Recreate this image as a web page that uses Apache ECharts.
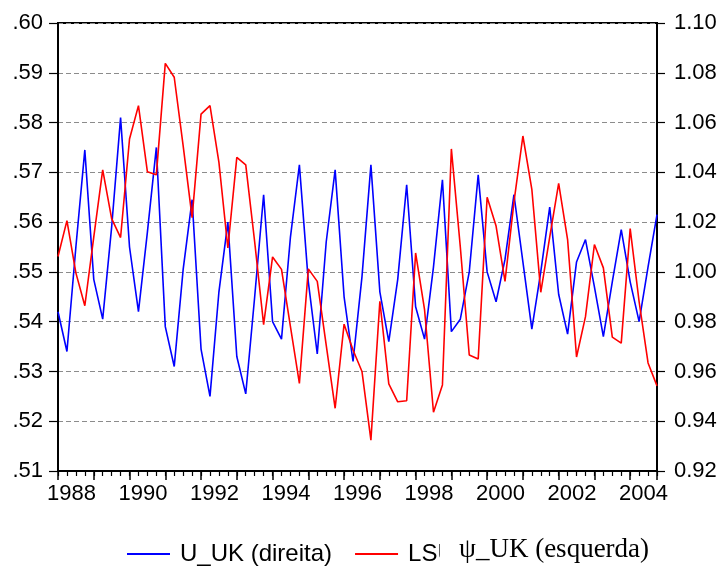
<!DOCTYPE html>
<html>
<head>
<meta charset="utf-8">
<script src="https://cdn.jsdelivr.net/npm/echarts@6/dist/echarts.min.js"></script>
<style>
  html, body { margin: 0; padding: 0; background: #fff; }
  #main { width: 723px; height: 568px; }
</style>
</head>
<body>
<div id="main"></div>
<script>
// quarterly series, 1988Q1 .. 2004Q4
var startYear = 1988;
// U_UK, right axis
var uUK = [
  0.984, 0.968, 1.010, 1.049, 0.997, 0.981, 1.018, 1.062,
  1.010, 0.984, 1.016, 1.050, 0.978, 0.962, 1.001, 1.029,
  0.969, 0.950, 0.992, 1.020, 0.966, 0.951, 0.990, 1.031,
  0.980, 0.973, 1.014, 1.043, 0.996, 0.967, 1.012, 1.041,
  0.990, 0.964, 0.998, 1.043, 0.992, 0.972, 0.997, 1.035,
  0.986, 0.973, 1.002, 1.037, 0.976, 0.981, 1.000, 1.039,
  1.000, 0.988, 1.005, 1.031, 1.004, 0.977, 1.000, 1.026,
  0.991, 0.975, 1.004, 1.013, 0.994, 0.974, 0.996, 1.017,
  0.996, 0.980, 1.002, 1.023
];
// LSU_UK, left axis
var lsuUK = [
  0.5531, 0.5603, 0.5498, 0.5432, 0.5570, 0.5705, 0.5607, 0.5569,
  0.5767, 0.5834, 0.5701, 0.5695, 0.5919, 0.5891, 0.5753, 0.5609,
  0.5817, 0.5834, 0.5720, 0.5548, 0.5730, 0.5715, 0.5560, 0.5394,
  0.5530, 0.5505, 0.5390, 0.5276, 0.5506, 0.5481, 0.5353, 0.5226,
  0.5395, 0.5343, 0.5300, 0.5162, 0.5441, 0.5275, 0.5239, 0.5241,
  0.5538, 0.5424, 0.5218, 0.5273, 0.5747, 0.5550, 0.5333, 0.5325,
  0.5650, 0.5592, 0.5481, 0.5640, 0.5773, 0.5666, 0.5459, 0.5570,
  0.5678, 0.5565, 0.5329, 0.5410, 0.5555, 0.5508, 0.5369, 0.5357,
  0.5587, 0.5440, 0.5317, 0.5271
];
var leftTicks = { min: 0.51, max: 0.60, step: 0.01 };
var rightTicks = { min: 0.92, max: 1.10, step: 0.02 };

function toPoints(arr) {
  return arr.map(function (v, i) { return [startYear + i / 4, v]; });
}

var xMin = startYear;
var xMax = startYear + (uUK.length - 1) / 4;
var font = "Liberation Sans, Arial, sans-serif";

var myChart = echarts.init(document.getElementById("main"));
myChart.setOption({
  animation: false,
  grid: {
    left: 58, right: 66, top: 23, bottom: 97,
    show: true, borderColor: "#000", borderWidth: 2
  },
  legend: {
    left: 122, top: 537,
    itemWidth: 43, itemHeight: 2, itemGap: 23,
    icon: "rect",
    textStyle: { fontFamily: font, fontSize: 24, color: "#000", padding: [0, 0, 0, 5] },
    data: ["U_UK (direita)", "LSU_UK (esquerda)"]
  },
  graphic: [
    // the label overlay that cuts the second legend entry
    { type: "rect", left: 440, top: 532, shape: { width: 230, height: 36 }, style: { fill: "#fff" }, z: 100 },
    {
      type: "text", left: 459, top: 536, z: 101,
      style: { text: "\u03C8_UK (esquerda)", font: "27px 'Liberation Serif', 'Times New Roman', serif", fill: "#000" }
    }
  ],
  xAxis: [
    {
      type: "value", position: "bottom", min: xMin, max: xMax, interval: 0.25,
      axisLine: { lineStyle: { color: "#000", width: 2 } },
      axisTick: { length: 5, lineStyle: { color: "#000", width: 1.2 } },
      axisLabel: { show: false },
      splitLine: { show: false }
    },
    {
      type: "value", position: "bottom", offset: 0, min: xMin, max: xMax, interval: 1,
      axisLine: { show: false },
      axisTick: { length: 9, lineStyle: { color: "#000", width: 1.5 } },
      axisLabel: { show: false },
      splitLine: { show: false }
    },
    {
      type: "value", position: "bottom", offset: 0, min: xMin, max: xMax, interval: 0.125,
      axisLine: { show: false },
      axisTick: { show: false },
      splitLine: { show: false },
      axisLabel: {
        margin: 12, fontFamily: font, fontSize: 22, color: "#000",
        formatter: function (v) {
          var f = (v - startYear - 0.375) / 2;
          if (Math.abs(f - Math.round(f)) < 0.01) return String(Math.round(v - 0.375));
          return "";
        }
      }
    }
  ],
  yAxis: [
    {
      type: "value", position: "left",
      min: leftTicks.min, max: leftTicks.max, interval: leftTicks.step,
      axisLine: { show: true, lineStyle: { color: "#000", width: 2 } },
      axisTick: { length: 9, lineStyle: { color: "#000", width: 1.2 } },
      axisLabel: {
        margin: 15, fontFamily: font, fontSize: 22, color: "#000",
        formatter: function (v) { return v.toFixed(2).replace(/^0/, ""); }
      },
      splitLine: { show: true, lineStyle: { color: "#8c8c8c", type: [5, 3], width: 1 } }
    },
    {
      type: "value", position: "right",
      min: rightTicks.min, max: rightTicks.max, interval: rightTicks.step,
      axisLine: { show: true, lineStyle: { color: "#000", width: 2 } },
      axisTick: { length: 8, lineStyle: { color: "#000", width: 1.2 } },
      axisLabel: {
        margin: 17, fontFamily: font, fontSize: 22, color: "#000",
        formatter: function (v) { return v.toFixed(2); }
      },
      splitLine: { show: false }
    }
  ],
  series: [
    {
      name: "U_UK (direita)", type: "line", xAxisIndex: 0, yAxisIndex: 1,
      data: toPoints(uUK), symbol: "none",
      itemStyle: { color: "#0000ff" },
      lineStyle: { color: "#0000ff", width: 1.6 }
    },
    {
      name: "LSU_UK (esquerda)", type: "line", xAxisIndex: 0, yAxisIndex: 0,
      data: toPoints(lsuUK), symbol: "none",
      itemStyle: { color: "#ff0000" },
      lineStyle: { color: "#ff0000", width: 1.6 }
    }
  ]
});
</script>
</body>
</html>
